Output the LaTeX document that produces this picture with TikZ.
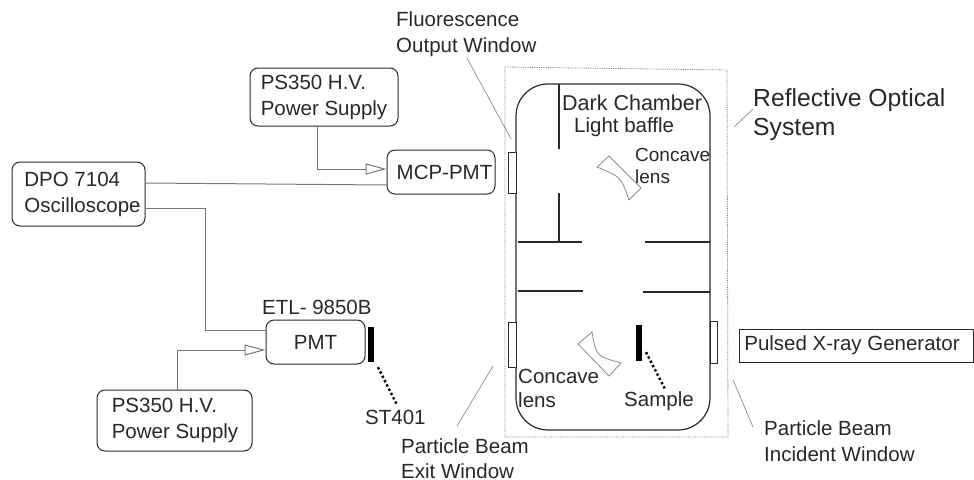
\documentclass[tikz,border=0pt]{standalone}
\usepackage{fontspec}
\setmainfont{Liberation Sans}
\usetikzlibrary{
    arrows.meta,
    calc,
    positioning
}
\definecolor{ink}{RGB}{40,40,40}
\definecolor{wire}{RGB}{120,120,120}
\definecolor{leader}{RGB}{140,140,140}
\tikzset{
    line join=round,
    devbox/.style={
        rectangle,
        draw=ink,
        line width=1pt,
        rounded corners=8pt,
        align=left,
        inner sep=0pt,
        text=ink,
        font=\fontsize{20.5}{26}\selectfont
    },
    caption/.style={
        anchor=west,
        align=left,
        inner sep=0pt,
        text=ink,
        font=\fontsize{20.5}{26}\selectfont
    },
    windowbox/.style={
        rectangle,
        draw=ink,
        line width=0.9pt,
        fill=white,
        inner sep=0pt,
        minimum width=8pt
    },
    filter/.style={
        rectangle,
        fill=black,
        inner sep=0pt,
        minimum width=6pt
    },
    wiring/.style={
        draw=wire,
        line width=1pt
    },
    supply/.style={
        wiring,
        -{Triangle[open, fill=white, length=21pt, width=11pt]}
    },
    leaderline/.style={
        draw=leader,
        line width=0.7pt
    },
    baffle/.style={
        draw=ink,
        line width=1.2pt
    },
    lens/.style={
        draw=leader,
        line width=0.8pt,
        line join=miter
    },
    holder/.style={
        draw=black,
        line width=2.4pt,
        dash pattern=on 2.4pt off 2.4pt
    }
}

\begin{document}
\begin{tikzpicture}[x=1pt, y=-1pt]

\useasboundingbox (0,0) rectangle (974,479);

% Instruments on the left
\node[devbox, minimum width=148pt, minimum height=58pt] (hvtop) at (324, 97)
    {PS350 H.V.\\Power Supply};
\node[devbox, minimum width=108pt, minimum height=44pt] (mcp) at (441, 172)
    {\hspace*{7pt}MCP-PMT};
\node[devbox, minimum width=133pt, minimum height=64pt] (scope) at (78.5, 194)
    {\hspace*{8pt}DPO 7104\\\hspace*{8pt}Oscilloscope};
\node[devbox, minimum width=99pt, minimum height=44pt] (pmt) at (315.5, 342) {PMT};
\node[devbox, minimum width=155pt, minimum height=61pt] (hvbot) at (174.5, 420.5)
    {\hspace*{1pt}PS350 H.V.\\\hspace*{1pt}Power Supply};

\node[caption] (etl) at (262, 307) {ETL- 9850B};
\node[filter, minimum height=35pt] (crystal) at (371, 344.5) {};
\node[caption] (stlabel) at (365, 417) {ST401};

% Wires
\draw[supply] ([xshift=-7pt]hvtop.south) |- ([yshift=3pt]mcp.west);
\draw[wiring] ([yshift=11pt]scope.east) -- ([yshift=-13pt]mcp.west);
\draw[wiring] ([yshift=-14pt]scope.east) -| ($(pmt.west)+(-60,-12)$) -- ([yshift=12pt]pmt.west);
\draw[supply] ([xshift=2.5pt]hvbot.north) |- ([yshift=-8pt]pmt.west);
\coordinate (stend) at (397, 405);
\draw[holder] ([xshift=7pt,yshift=-5pt]crystal.south) -- (stend);

% Reflective optical system
\draw[draw=wire, line width=0.8pt, densely dotted]
    (505, 67) -- (727, 70) -- (728, 437) -- (505, 437) -- cycle;
\node[draw=ink, line width=1.2pt, rounded corners=32pt, minimum width=194pt,
    minimum height=346pt, inner sep=0pt] (chamber) at (613, 257) {};

% Windows
\node[windowbox, minimum height=41pt] (winfluo) at (512, 172.5) {};
\node[windowbox, minimum height=45pt] (winexit) at (512, 344.5) {};
\node[windowbox, minimum width=7pt, minimum height=42pt] (winin) at (713.5, 342) {};

% Light baffles
\draw[baffle] (559, 84) -- (559, 149);
\draw[baffle] (559, 193) -- (559, 242);
\draw[baffle] (518, 242) -- (582, 242);
\draw[baffle] (645, 242) -- (710, 242);
\draw[baffle] (518, 291) -- (583, 291);
\draw[baffle] (643, 292) -- (710, 292);

% Concave lenses
\draw[lens] (597, 167) -- (609, 156) -- (641, 188) -- (629, 200)
    .. controls (621, 177) .. cycle;
\draw[lens] (578, 344) -- (592, 332) .. controls (596, 356) .. (621, 363)
    -- (609, 376) -- cycle;

% Sample
\node[filter, minimum height=36pt] (sample) at (639, 343) {};
\coordinate (sampleend) at (665, 389);
\draw[holder] ([xshift=7pt,yshift=9pt]sample.south) -- (sampleend);

% Chamber texts
\node[caption, font=\fontsize{21.5}{26}\selectfont] (dark) at (562, 103) {Dark Chamber};
\node[caption] (baffletext) at (574, 127) {Light baffle};
\node[caption, font=\fontsize{19}{22}\selectfont] (lenstop) at (635, 166) {Concave\\lens};
\node[caption, font=\fontsize{20.5}{24}\selectfont] (lensbot) at (518, 388) {Concave\\lens};
\node[caption] (sampletext) at (624, 401) {Sample};

% Outer labels
\node[caption] (fluo) at (396, 34) {Fluorescence\\Output Window};
\node[caption, font=\fontsize{24.7}{29}\selectfont] (reflect) at (753, 115)
    {Reflective Optical\\System};
\node[caption, font=\fontsize{20.5}{25}\selectfont] (exit) at (401, 458.5) {Particle Beam\\Exit Window};
\node[caption] (incident) at (764, 441) {Particle Beam\\Incident Window};
\node[draw=ink, line width=1pt, minimum width=234pt, minimum height=33pt, inner sep=0pt,
    text=ink, font=\fontsize{20.5}{26}\selectfont] (xray) at (856, 345.5)
    {Pulsed X-ray Generator\hspace*{8pt}};

% Leaders
\coordinate (fluoend) at (511, 139);
\coordinate (reflectend) at (734, 127);
\coordinate (exitend) at (493, 366);
\coordinate (incidentend) at (733, 380);
\draw[leaderline] (467, 58) -- (fluoend);
\draw[leaderline] (753, 109) -- (reflectend);
\draw[leaderline] (457, 426) -- (exitend);
\draw[leaderline] (753, 427) -- (incidentend);

\end{tikzpicture}
\end{document}
